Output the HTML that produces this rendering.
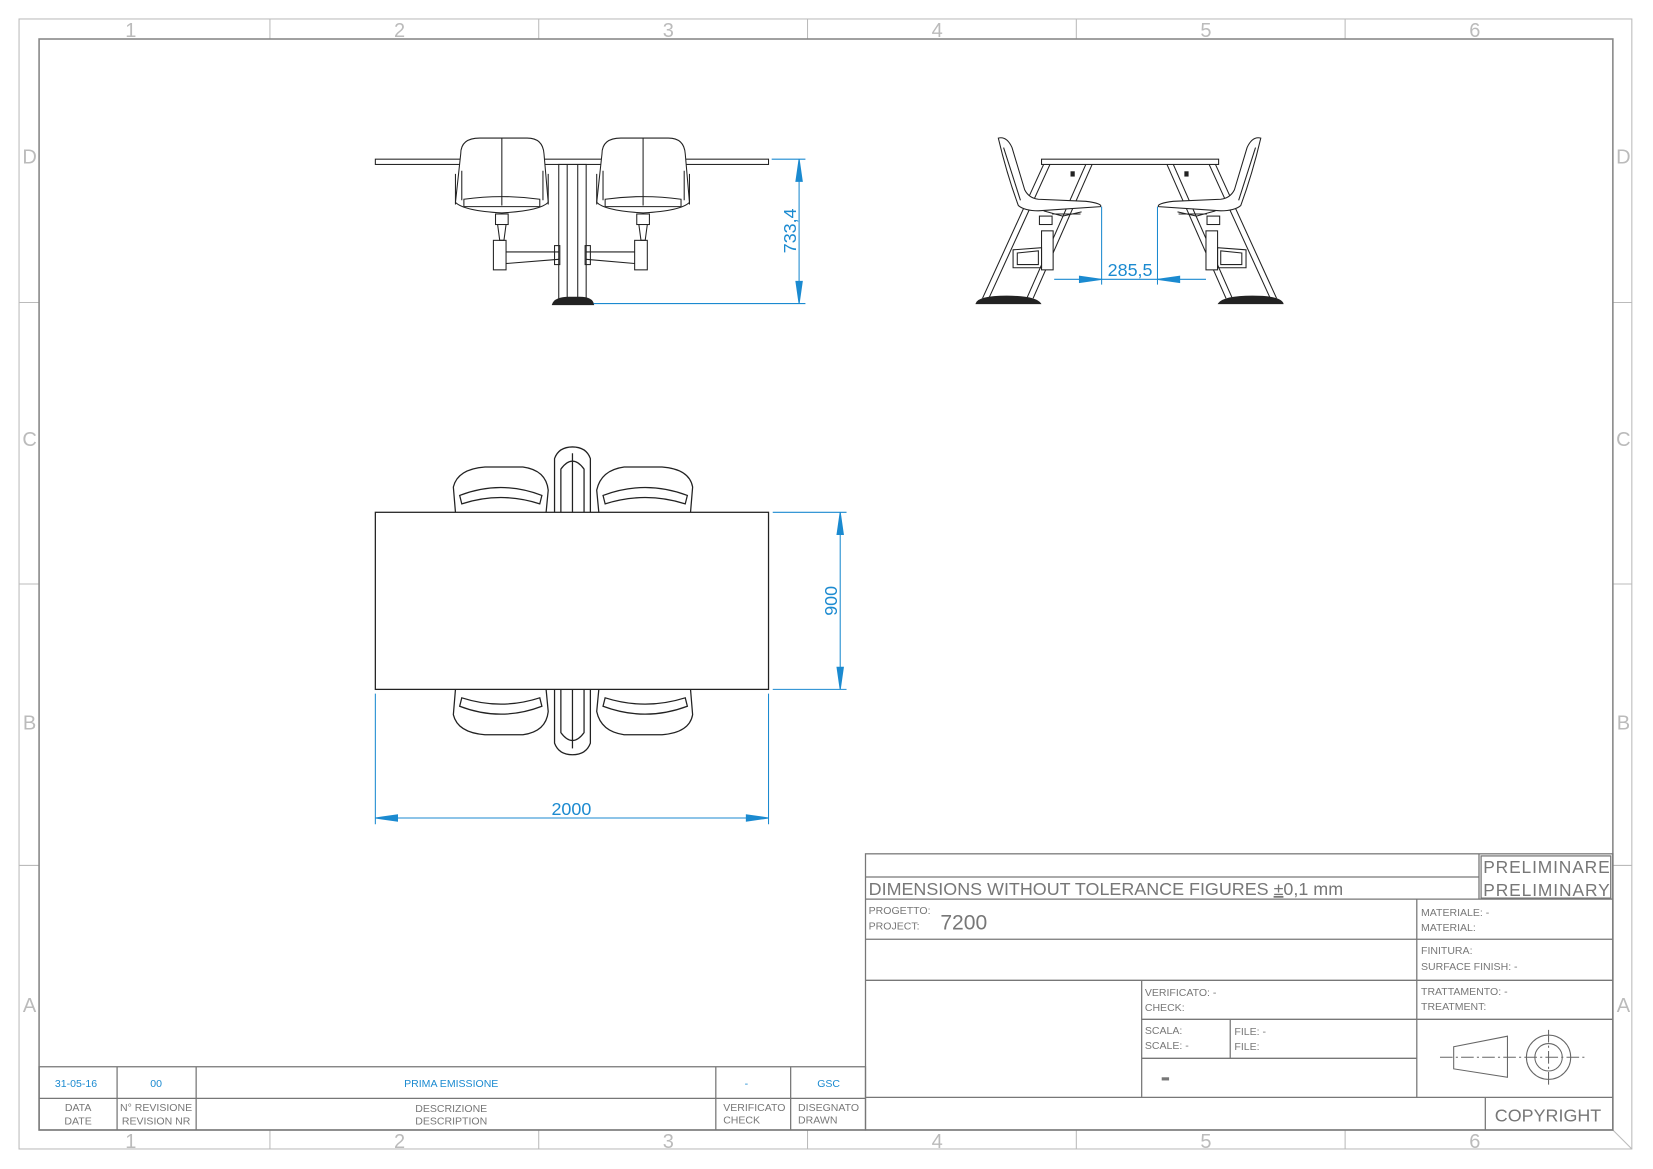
<!DOCTYPE html>
<html><head><meta charset="utf-8"><style>
html,body{margin:0;padding:0;background:#fff}
svg{display:block}
text{font-family:"Liberation Sans",sans-serif}
</style></head><body>
<svg width="1653" height="1169" viewBox="0 0 1568 1109" xmlns="http://www.w3.org/2000/svg">
<rect width="1568" height="1109" fill="#fff"/>
<g fill="none" stroke="#bbb" stroke-width="1">
<rect x="18" y="18" width="1530" height="1072"/>
<line x1="256" y1="18" x2="256" y2="37"/><line x1="511" y1="18" x2="511" y2="37"/><line x1="766" y1="18" x2="766" y2="37"/><line x1="1021" y1="18" x2="1021" y2="37"/><line x1="1276" y1="18" x2="1276" y2="37"/>
<line x1="256" y1="1072" x2="256" y2="1090"/><line x1="511" y1="1072" x2="511" y2="1090"/><line x1="766" y1="1072" x2="766" y2="1090"/><line x1="1021" y1="1072" x2="1021" y2="1090"/><line x1="1276" y1="1072" x2="1276" y2="1090"/>
<line x1="18" y1="287" x2="37" y2="287"/><line x1="18" y1="554" x2="37" y2="554"/><line x1="18" y1="821" x2="37" y2="821"/>
<line x1="1530" y1="287" x2="1548" y2="287"/><line x1="1530" y1="554" x2="1548" y2="554"/><line x1="1530" y1="821" x2="1548" y2="821"/>
<line x1="1530" y1="1072" x2="1548" y2="1090"/>
</g>
<rect x="37" y="37" width="1493" height="1035" fill="none" stroke="#888" stroke-width="1.5"/>
<g fill="#bbb" font-size="19" text-anchor="middle">
<text x="124" y="35">1</text><text x="379" y="35">2</text><text x="634" y="35">3</text><text x="889" y="35">4</text><text x="1144" y="35">5</text><text x="1399" y="35">6</text>
<text x="124" y="1089">1</text><text x="379" y="1089">2</text><text x="634" y="1089">3</text><text x="889" y="1089">4</text><text x="1144" y="1089">5</text><text x="1399" y="1089">6</text>
<text x="28" y="155">D</text><text x="28" y="423">C</text><text x="28" y="692">B</text><text x="28" y="960">A</text>
<text x="1540" y="155">D</text><text x="1540" y="423">C</text><text x="1540" y="692">B</text><text x="1540" y="960">A</text>
</g>

<!-- Title block -->
<g fill="none" stroke="#777" stroke-width="1.2">
<rect x="821" y="810" width="709" height="262"/>
<line x1="821" y1="832" x2="1403" y2="832"/>
<line x1="821" y1="853" x2="1530" y2="853"/>
<line x1="821" y1="891" x2="1530" y2="891"/>
<line x1="821" y1="930" x2="1530" y2="930"/>
<line x1="1083" y1="967" x2="1530" y2="967"/>
<line x1="1083" y1="1004" x2="1344" y2="1004"/>
<line x1="821" y1="1041" x2="1530" y2="1041"/>
<line x1="1403" y1="810" x2="1403" y2="853"/>
<rect x="1405" y="812" width="123" height="40"/>
<line x1="1344" y1="853" x2="1344" y2="1041"/>
<line x1="1083" y1="930" x2="1083" y2="1041"/>
<line x1="1167" y1="967" x2="1167" y2="1004"/>
<line x1="1409" y1="1041" x2="1409" y2="1072"/>
<rect x="37" y="1012" width="784" height="60"/>
<line x1="37" y1="1042" x2="821" y2="1042"/>
<line x1="111" y1="1012" x2="111" y2="1072"/><line x1="186" y1="1012" x2="186" y2="1072"/>
<line x1="679" y1="1012" x2="679" y2="1072"/><line x1="750" y1="1012" x2="750" y2="1072"/>
</g>
<g fill="#777">
<text x="824" y="849" font-size="17">DIMENSIONS WITHOUT TOLERANCE FIGURES  <tspan text-decoration="underline">±</tspan>0,1 mm</text>
<text x="1407" y="828" font-size="16.5" textLength="120">PRELIMINARE</text>
<text x="1407" y="850" font-size="16.5" textLength="120">PRELIMINARY</text>
<text x="824" y="867" font-size="10">PROGETTO:</text><text x="824" y="882" font-size="10">PROJECT:</text>
<text x="892" y="882" font-size="20">7200</text>
<text x="1348" y="869" font-size="10">MATERIALE:  -</text><text x="1348" y="883" font-size="10">MATERIAL:</text>
<text x="1348" y="905" font-size="10">FINITURA:</text><text x="1348" y="920" font-size="10">SURFACE FINISH:  -</text>
<text x="1348" y="944" font-size="10">TRATTAMENTO:  -</text><text x="1348" y="958" font-size="10">TREATMENT:</text>
<text x="1086" y="945" font-size="10">VERIFICATO:  -</text><text x="1086" y="959" font-size="10">CHECK:</text>
<text x="1086" y="981" font-size="10">SCALA:</text><text x="1086" y="995" font-size="10">SCALE:  -</text>
<text x="1171" y="982" font-size="10">FILE:  -</text><text x="1171" y="996" font-size="10">FILE:</text>
<rect x="1102" y="1022" width="7" height="3"/>
<text x="1418" y="1064" font-size="17">COPYRIGHT</text>
<text x="74" y="1054" font-size="10" text-anchor="middle">DATA</text><text x="74" y="1067" font-size="10" text-anchor="middle">DATE</text>
<text x="148" y="1054" font-size="10" text-anchor="middle">N° REVISIONE</text><text x="148" y="1067" font-size="10" text-anchor="middle">REVISION NR</text>
<text x="428" y="1055" font-size="10" text-anchor="middle">DESCRIZIONE</text><text x="428" y="1067" font-size="10" text-anchor="middle">DESCRIPTION</text>
<text x="686" y="1054" font-size="10">VERIFICATO</text><text x="686" y="1066" font-size="10">CHECK</text>
<text x="757" y="1054" font-size="10">DISEGNATO</text><text x="757" y="1066" font-size="10">DRAWN</text>
</g>
<g fill="#1b8ad0" font-size="10" text-anchor="middle">
<text x="72" y="1031">31-05-16</text><text x="148" y="1031">00</text><text x="428" y="1031">PRIMA EMISSIONE</text><text x="708" y="1031">-</text><text x="786" y="1031">GSC</text>
</g>
<g fill="none" stroke="#666" stroke-width="1">
<path d="M1379 993 L1430 983 L1430 1022 L1379 1014 Z"/>
<line x1="1366" y1="1003" x2="1503" y2="1003" stroke-dasharray="12,3,2,3"/>
<line x1="1469" y1="977" x2="1469" y2="1030" stroke-dasharray="12,3,2,3"/>
<circle cx="1469" cy="1003" r="21"/><circle cx="1469" cy="1003" r="13"/>
</g>

<!-- Front view -->
<g fill="none" stroke="#222" stroke-width="1">
<rect x="356" y="151" width="373" height="5"/>
<rect x="530" y="156" width="26" height="128"/><line x1="538" y1="156" x2="538" y2="284"/><line x1="548" y1="156" x2="548" y2="284"/>
<path d="M524 289 Q526 282 540 282 L550 282 Q562 282 563 289 Z" fill="#222"/>
<g id="ch">
<path d="M437 146 Q437 131 455 131 L500 131 Q515 131 516 146 L520 192 Q512 200 476 202 Q440 200 432 192 Z" fill="#fff"/>
<line x1="476" y1="131" x2="476" y2="195"/>
<path d="M440 189 Q476 184 512 189 L512 196 L440 196 Z"/>
<path d="M432 165 L432 194 M438 162 L438 190 M515 162 L515 190 M520 165 L520 194"/>
<rect x="470" y="203" width="12" height="10"/><path d="M472 213 L474 228 L478 228 L480 213"/>
<rect x="468" y="228" width="12" height="28"/>
</g>
<use href="#ch" transform="translate(134,0)"/>
<path d="M480 239 L530 239 M480 250 L530 246 M556 239 L602 239 M556 246 L602 250"/>
<rect x="526" y="233" width="5" height="18"/><rect x="555" y="233" width="5" height="18"/>
</g>
<g stroke="#1b8ad0" fill="#1b8ad0" stroke-width="1">
<line x1="732" y1="151" x2="764" y2="151"/><line x1="563" y1="288" x2="764" y2="288"/>
<line x1="758" y1="151" x2="758" y2="288"/>
<path d="M758 151 L755 172 L761 172 Z M758 288 L755 267 L761 267 Z"/>
</g>
<text transform="translate(755,219) rotate(-90)" fill="#1b8ad0" font-size="17" text-anchor="middle">733,4</text>

<!-- Side view -->
<g fill="none" stroke="#222" stroke-width="1">
<rect x="988" y="151" width="168" height="5"/>
<g id="sd">
<line x1="990" y1="156" x2="932" y2="283"/><line x1="996" y1="156" x2="938" y2="283"/>
<line x1="1030" y1="156" x2="974" y2="283"/><line x1="1036" y1="156" x2="980" y2="283"/>
<path d="M926 288 Q928 281 955 281 Q982 281 987 288 Z" fill="#222"/>
<path d="M947 131 Q955 129 960 140 Q966 160 972 180 Q976 188 985 189 L1030 191 Q1046 193 1044 196 L985 200 Q972 200 966 195 Q955 165 947 131 Z" fill="#fff"/>
<path d="M952 140 Q960 165 968 190"/>
<path d="M990 200 L1008 205 L1026 201 M998 203 L1025 203"/>
<rect x="986" y="205" width="12" height="8"/>
<rect x="988" y="219" width="11" height="37" fill="#fff"/>
<path d="M961 237 L988 235 L988 254 L961 254 Z M965 240 L985 238 L985 251 L965 251 Z"/>
<rect x="1016" y="163" width="3" height="4" fill="#222"/>
</g>
<use href="#sd" transform="translate(2143,0) scale(-1,1)"/>
</g>
<g stroke="#1b8ad0" fill="#1b8ad0" stroke-width="1">
<line x1="1045" y1="196" x2="1045" y2="270"/><line x1="1098" y1="196" x2="1098" y2="270"/>
<line x1="1000" y1="265" x2="1144" y2="265"/>
<path d="M1045 265 L1024 262 L1024 268 Z M1098 265 L1119 262 L1119 268 Z"/>
</g>
<text x="1072" y="262" fill="#1b8ad0" font-size="17" text-anchor="middle">285,5</text>

<!-- Top view -->
<g fill="none" stroke="#222" stroke-width="1.2">
<g id="tc">
<path d="M432 486 L430 462 Q434 445 460 443 L496 443 Q518 446 520 465 L518 486"/>
<path d="M436 470 Q475 455 514 470 L512 478 Q475 466 438 478 Z"/>
<path d="M568 486 L566 465 Q570 446 592 443 L628 443 Q654 445 657 462 L655 486"/>
<path d="M572 470 Q612 455 652 470 L650 478 Q612 466 574 478 Z"/>
<path d="M526 486 L526 435 Q530 424 543 424 Q556 424 560 435 L560 486"/>
<path d="M532 486 L532 445 Q543 430 554 445 L554 486"/>
<line x1="543" y1="430" x2="543" y2="486"/>
</g>
<use href="#tc" transform="translate(0,1140) scale(1,-1)"/>
<rect x="356" y="486" width="373" height="168" fill="#fff"/>
</g>
<g stroke="#1b8ad0" fill="#1b8ad0" stroke-width="1">
<line x1="733" y1="486" x2="803" y2="486"/><line x1="733" y1="654" x2="803" y2="654"/>
<line x1="797" y1="486" x2="797" y2="654"/>
<path d="M797 486 L794 507 L800 507 Z M797 654 L794 633 L800 633 Z"/>
<line x1="356" y1="658" x2="356" y2="782"/><line x1="729" y1="658" x2="729" y2="782"/>
<line x1="356" y1="776" x2="729" y2="776"/>
<path d="M356 776 L377 773 L377 779 Z M729 776 L708 773 L708 779 Z"/>
</g>
<text transform="translate(794,570) rotate(-90)" fill="#1b8ad0" font-size="17" text-anchor="middle">900</text>
<text x="542" y="773" fill="#1b8ad0" font-size="17" text-anchor="middle">2000</text>
</svg>
</body></html>
